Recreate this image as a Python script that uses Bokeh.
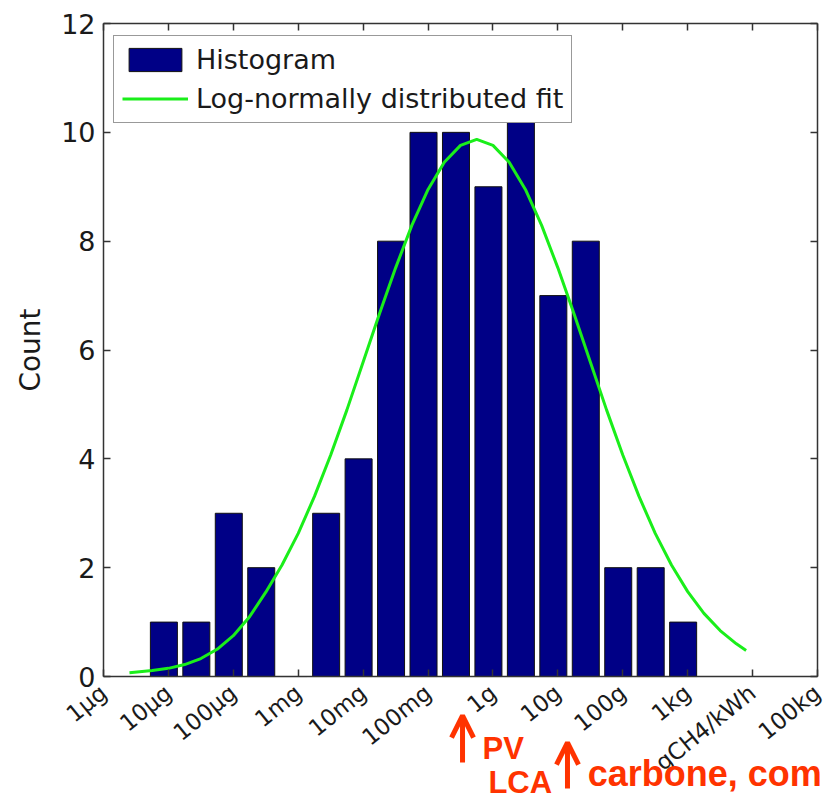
import math
from bokeh.plotting import figure
from bokeh.models import (ColumnDataSource, LinearAxis, Range1d, Label, Arrow, OpenHead,
                          Legend, LegendItem, FixedTicker)
from bokeh.embed import file_html
from bokeh.resources import INLINE

# ---- data (x in log10 of grams CH4 per kWh) ----
bin_center_log10 = [-5.07, -4.57, -4.07, -3.57, -3.07, -2.57, -2.07, -1.57, -1.07,
                    -0.57, -0.07, 0.43, 0.93, 1.43, 1.93, 2.43, 2.93]
counts = [1, 1, 3, 2, 0, 3, 4, 8, 10, 10, 9, 11, 7, 8, 2, 2, 1]

fit_log10 = [-5.6, -5.25, -5.0, -4.75, -4.5, -4.25, -4.0, -3.75, -3.5, -3.25, -3.0,
             -2.75, -2.5, -2.25, -2.0, -1.75, -1.5, -1.25, -1.0, -0.75, -0.5, -0.25,
             0.0, 0.25, 0.5, 0.75, 1.0, 1.25, 1.5, 1.75, 2.0, 2.25, 2.5, 2.75, 3.0,
             3.25, 3.5, 3.75, 3.9]
fit_count = [0.07, 0.11, 0.15, 0.22, 0.33, 0.5, 0.75, 1.1, 1.55, 2.05, 2.63,
             3.31, 4.07, 4.9, 5.78, 6.66, 7.51, 8.29, 8.95, 9.45, 9.76, 9.87,
             9.76, 9.45, 8.95, 8.29, 7.51, 6.66, 5.78, 4.9, 4.07, 3.31, 2.63, 2.05, 1.56,
             1.16, 0.845, 0.6, 0.48]

tick_log10 = [-6, -5, -4, -3, -2, -1, 0, 1, 2, 3, 4, 5]
tick_labels = ["1µg", "10µg", "100µg", "1mg", "10mg", "100mg", "1g", "10g",
               "100g", "1kg", "gCH4/kWh", "100kg"]
y_ticks = [0, 2, 4, 6, 8, 10, 12]

X_MIN, X_MAX = -6, 5
Y_MIN, Y_MAX = 0, 12
# visible window (the axes box sits inside it, room is left for the labels around)
VIEW_X = (-7.587, 5.123)
VIEW_Y = (-2.260, 12.423)

# annotation anchors (log10 x, count y)
pv_arrow = dict(x=-0.469, y0=-1.58, y1=-0.717)
carb_arrow = dict(x=1.148, y0=-2.058, y1=-1.213)

BAR_W = 0.416
half = BAR_W / 2
src = ColumnDataSource(dict(
    left=[c - half for c in bin_center_log10],
    right=[c + half for c in bin_center_log10],
    top=counts,
    bottom=[0] * len(counts),
))

FONT = "DejaVu Sans"
TXT = "#1a1a1a"
AX = "#333333"
RED = "#ff3300"

p = figure(width=825, height=799, output_backend="svg", toolbar_location=None,
           title=None,
           x_range=Range1d(*VIEW_X), y_range=Range1d(*VIEW_Y),
           min_border_left=0, min_border_right=0, min_border_top=0,
           min_border_bottom=0)
p.xgrid.visible = False
p.ygrid.visible = False
p.outline_line_color = None
p.background_fill_color = "white"
p.border_fill_color = "white"

bars = p.quad(left="left", right="right", top="top", bottom="bottom", source=src,
              fill_color="#000086", line_color="#111111", line_width=1)
fit = p.line(fit_log10, fit_count, line_color="#1aee1a", line_width=3)

axis_style = dict(major_tick_in=7, major_tick_out=0, minor_tick_line_color=None,
                  axis_line_color=AX, axis_line_width=1.5,
                  major_tick_line_color=AX, major_tick_line_width=1.5)

# bottom axis, drawn at count = 0
xa = p.xaxis[0]
xa.fixed_location = Y_MIN
xa.bounds = (X_MIN, X_MAX)
xa.ticker = FixedTicker(ticks=tick_log10)
xa.major_label_overrides = {t: l for t, l in zip(tick_log10, tick_labels)}
xa.major_label_orientation = 0.68
xa.major_label_text_font = FONT
xa.major_label_text_font_size = "23px"
xa.major_label_text_color = TXT
xa.major_label_standoff = 13
for k, v in axis_style.items():
    setattr(xa, k, v)

# left axis, drawn at 1 µg
ya = p.yaxis[0]
ya.fixed_location = X_MIN
ya.bounds = (Y_MIN, Y_MAX)
ya.ticker = FixedTicker(ticks=y_ticks)
ya.major_label_text_font = FONT
ya.major_label_text_font_size = "27px"
ya.major_label_text_color = TXT
ya.major_label_standoff = 8
for k, v in axis_style.items():
    setattr(ya, k, v)

# mirrored box ticks
top_ax = LinearAxis(ticker=FixedTicker(ticks=tick_log10), fixed_location=Y_MAX,
                    bounds=(X_MIN, X_MAX), major_label_text_font_size="0px",
                    major_label_standoff=0, **axis_style)
p.add_layout(top_ax, "above")
right_ax = LinearAxis(ticker=FixedTicker(ticks=y_ticks), fixed_location=X_MAX,
                      bounds=(Y_MIN, Y_MAX), major_label_text_font_size="0px",
                      major_label_standoff=0, **axis_style)
p.add_layout(right_ax, "right")

# y axis title
p.add_layout(Label(x=-7.125, y=(Y_MIN + Y_MAX) / 2, text="Count", angle=math.pi / 2,
                   text_align="center", text_baseline="middle", text_font=FONT,
                   text_font_size="28px", text_color=TXT))

legend = Legend(items=[LegendItem(label="Histogram", renderers=[bars]),
                       LegendItem(label="Log-normally distributed fit", renderers=[fit])],
                location=(113, 676), margin=0, padding=8, spacing=8,
                glyph_width=66, glyph_height=29, label_height=29, label_standoff=8,
                label_text_font=FONT, label_text_font_size="27px",
                label_text_color=TXT, border_line_color=AX, border_line_width=1.5,
                background_fill_color="white", background_fill_alpha=1.0)
p.add_layout(legend)

# red annotations below the axis
for a in (pv_arrow, carb_arrow):
    p.add_layout(Arrow(end=OpenHead(size=22, line_color=RED, line_width=5),
                       x_start=a["x"], y_start=a["y0"], x_end=a["x"], y_end=a["y1"],
                       line_color=RED, line_width=5))
lab_kw = dict(text_font="Liberation Sans", text_font_style="bold", text_color=RED,
              text_baseline="alphabetic")
p.add_layout(Label(x=-0.16, y=-1.33, text="PV", text_font_size="31px", **lab_kw))
p.add_layout(Label(x=-0.07, y=-1.95, text="LCA", text_font_size="31px", **lab_kw))
p.add_layout(Label(x=1.46, y=-1.79, text="carbone, com", text_font_size="36px", **lab_kw))

open("out.html", "w").write(file_html(p, INLINE))
